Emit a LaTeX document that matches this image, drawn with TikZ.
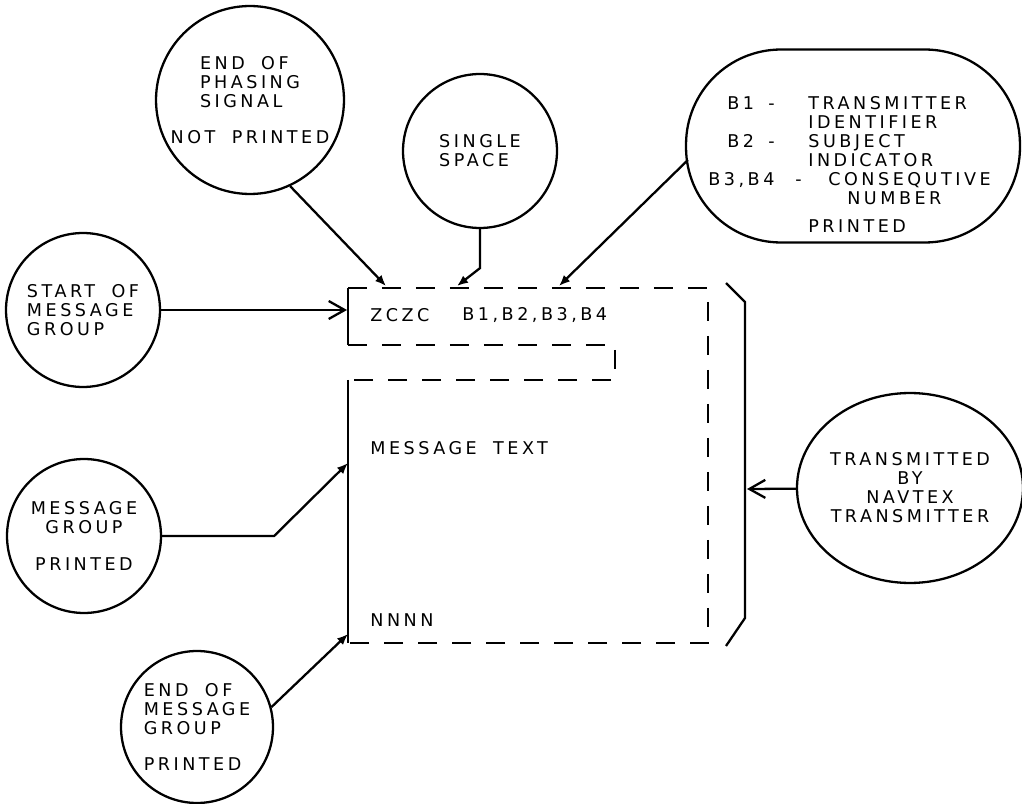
\documentclass[tikz,border=0pt]{standalone}
\usepackage{fontspec}
\setmainfont{DejaVu Sans}[LetterSpace=20, WordSpace=1.8]
\usepackage{tikz}
\usetikzlibrary{arrows.meta,positioning,shapes.geometric}
\tikzset{
  bubble/.style={circle, draw, line width=1.3pt, inner sep=0pt, align=center},
  oval/.style={ellipse, draw, line width=1.3pt, inner sep=0pt, align=center},
  capsule/.style={draw, line width=1.3pt, rounded corners=1.9cm, minimum width=6.68cm, minimum height=3.86cm},
  line/.style={-{Latex[length=2.2mm, width=1.8mm]}, line width=1.3pt},
  openline/.style={-{Straight Barb[length=3.2mm, width=3.6mm]}, line width=1.3pt},
  frame/.style={line width=1.3pt},
  dashframe/.style={line width=1.3pt, dash pattern=on 0.38cm off 0.3cm},
  txt/.style={anchor=west, inner sep=0pt}
}

\begin{document}
\begin{tikzpicture}[x=0.02cm, y=-0.02cm, font=\fontsize{10}{10.8}\selectfont]
        \useasboundingbox (0,0) rectangle (1022,804);

        % bubbles round the message
        \node[bubble, minimum size=3.76cm] (phase) at (250,100) {\begin{tabular}{@{}l@{}}END OF\\PHASING\\SIGNAL\end{tabular}\\[0.3cm]NOT PRINTED};
        \node[bubble, minimum size=3.08cm, align=left] (space) at (480,151) {SINGLE\\SPACE};
        \node[capsule] (ids) at (853,146) {};
        \node[align=left, inner sep=0pt, anchor=north west] (idtext) at (708,96) {%
          \hspace*{0.38cm}\makebox[0.82cm][l]{B1}\makebox[0.8cm][l]{-}TRANSMITTER\\
          \hspace*{2cm}IDENTIFIER\\
          \hspace*{0.38cm}\makebox[0.82cm][l]{B2}\makebox[0.8cm][l]{-}SUBJECT\\
          \hspace*{2cm}INDICATOR\\
          \makebox[1.74cm][l]{B3,B4}\makebox[0.66cm][l]{-}CONSEQUTIVE\\
          \hspace*{2.78cm}NUMBER\\[5pt]
          \hspace*{2cm}PRINTED};
        \node[bubble, minimum size=3.08cm, align=left] (start) at (83,310) {START OF\\MESSAGE\\GROUP};
        \node[bubble, minimum size=3.08cm] (msg) at (84,536) {MESSAGE\\GROUP\\[0.36cm]PRINTED};
        \node[bubble, minimum size=3.04cm, align=left] (endmsg) at (197,727) {END OF\\MESSAGE\\GROUP\\[0.36cm]PRINTED};
        \node[oval, minimum width=4.4cm, minimum height=3.8cm] (navtex) at (910,488) {TRANSMITTED\\BY\\NAVTEX\\TRANSMITTER};

        % the message frame
        \draw[frame] (348,288) -- (348,345);
        \draw[frame] (348,380) -- (348,643);
        \draw[dashframe] (348,288) -- (708,288) -- (708,643) -- (348,643);
        \draw[dashframe] (348,345) -- (615,345) -- (615,380) -- (348,380);
        \draw[frame] (726,283) -- (745,302) -- (745,618) -- (726,646);

        \node[txt] (zczc) at (370,315) {ZCZC};
        \node[txt] (bchars) at (462,315) {B1,B2,B3,B4};
        \node[txt] (msgtext) at (370,448) {MESSAGE TEXT};
        \node[txt] (nnnn) at (370,620) {NNNN};

        \coordinate (inphase) at (386,286);
        \coordinate (inspace) at (457,286);
        \coordinate (inids) at (559,286);
        \coordinate (instart) at (347,310);
        \coordinate (inmsg) at (348,463);
        \coordinate (inend) at (348,634);
        \coordinate (inbracket) at (747,489);

        \draw[line] (phase.-65) -- (inphase);
        \draw[line] (space.south) -- ++(0,39) -- (inspace);
        \draw[line] ([shift={(3,14)}]ids.west) -- (inids);
        \draw[openline] (start) -- (instart);
        \draw[line] (msg.east) -- ++(112,0) -- (inmsg);
        \draw[line] (endmsg.15) -- (inend);
        \draw[openline] (navtex) -- (inbracket);
      \end{tikzpicture}
\end{document}
